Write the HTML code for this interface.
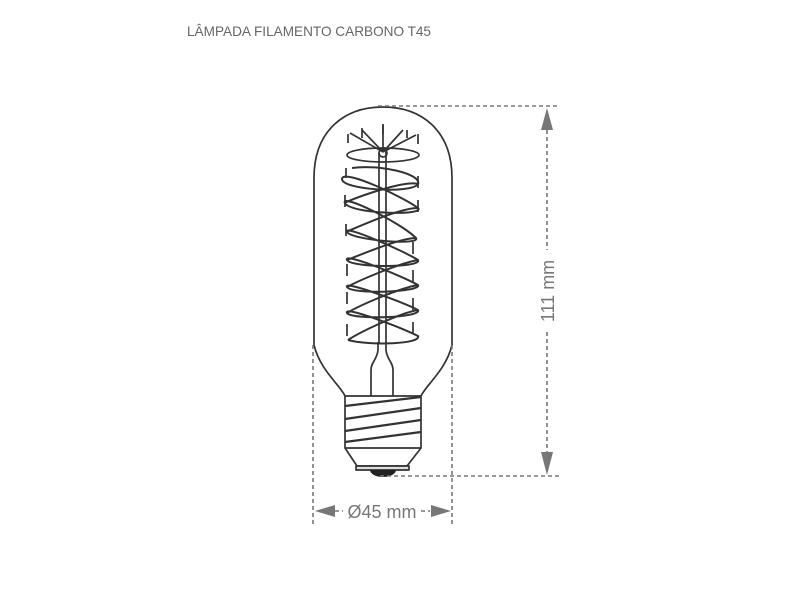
<!DOCTYPE html>
<html><head><style>
body{margin:0;background:#fff;width:800px;height:600px;overflow:hidden}
</style></head><body>
<svg width="800" height="600" viewBox="0 0 800 600" xmlns="http://www.w3.org/2000/svg">
<text x="187" y="36" font-family="Liberation Sans, sans-serif" font-size="13.6" fill="#666">LÂMPADA FILAMENTO CARBONO T45</text>
<g fill="none" stroke="#333" stroke-width="1.7" stroke-linejoin="round">
<path d="M345,396 C340,385 320,370 314,345 L314,178 C314,130 345,107 383,107 C421,107 452,130 452,178 L452,345 C446,370 426,385 421,396"/>
<path d="M371,396 L371,370 C371,362 377,360 378,350 L378,342 M393,396 L393,370 C393,362 387,360 386,350 L386,342"/>
<path d="M379,152 L379,343 M386,152 L386,343"/>
<ellipse cx="383" cy="155" rx="36" ry="7"/>
<path d="M383,152 L350,133 M383,152 L362,130 M383,152 L383,125 M383,152 L403,130 M383,152 L416,135"/>
<path d="M348,134 L348,143 M362,128 L362,138 M383,124 L383,134 M407,130 L407,138 M418,134 L418,144"/>
<circle cx="383" cy="153" r="4"/>
<g stroke-width="2">
<path d="M352,168 C380,164 422,174 418,184 C412,194 342,190 342,179 C343,168 405,198 418,208 C426,216 350,214 345,203 C340,193 400,222 416,238 C421,246 352,240 347,232 C342,224 402,250 418,260 C422,268 352,268 347,260 C343,252 402,276 418,285 C422,292 352,295 347,287 C343,280 402,302 418,310 C422,318 352,320 347,313 C343,305 402,328 418,336 C422,344 370,346 348,340"/>
<path d="M418,184 C405,180 360,196 344,203 M418,208 C400,208 360,226 346,232 M416,238 C400,238 360,255 347,260 M418,260 C400,263 360,280 347,287 M418,285 C400,288 360,305 347,313 M418,310 C400,313 360,332 348,340"/>
</g>
<path d="M346,168 L346,178 M418,176 L418,188 M345,195 L345,207 M418,200 L418,212 M346,224 L346,236 M413,242 L413,254 M347,264 L347,276 M413,270 L413,282 M347,292 L347,304 M413,298 L413,310 M347,324 L347,336 M413,322 L413,334"/>
<rect x="345" y="396" width="76" height="52"/>
<g stroke-width="2.2">
<path d="M345,406 L421,397 M345,419 L421,408 M345,431 L421,420 M345,442 L421,432"/>
</g>
<path d="M345,448 L357,466 L407,466 L421,448"/>
<rect x="356" y="466" width="53" height="4" fill="#ddd"/>
</g>
<path d="M370,470 A13,7 0 0 0 396,470 Z" fill="#222"/>
<g stroke="#777" stroke-width="1.6" stroke-dasharray="4,3" fill="none">
<path d="M378,106 L560,106 M380,476 L560,476"/>
<path d="M547,130 L547,250 M547,332 L547,452"/>
<path d="M313,345 L313,525 M452,345 L452,525"/>
<path d="M335,511 L343,511 M421,511 L430,511"/>
</g>
<g fill="#777">
<polygon points="547,108 541,130 553,130"/>
<polygon points="547,475 541,452 553,452"/>
<polygon points="315,511 335,505 335,517"/>
<polygon points="451,511 431,505 431,517"/>
</g>
<text x="382" y="518" text-anchor="middle" font-family="Liberation Sans, sans-serif" font-size="18" fill="#777">Ø45 mm</text>
<text transform="translate(554,291) rotate(-90)" text-anchor="middle" font-family="Liberation Sans, sans-serif" font-size="18" fill="#777">111 mm</text>
</svg>
</body></html>
